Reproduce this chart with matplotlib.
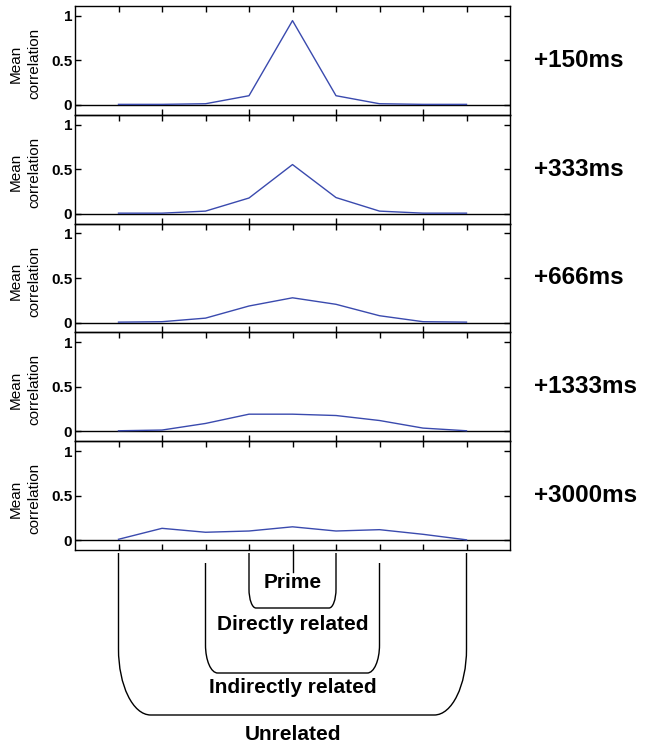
import numpy as np
import matplotlib
matplotlib.use("Agg")
import matplotlib.pyplot as plt
from matplotlib.path import Path
from matplotlib.patches import PathPatch

plt.rcParams['font.family'] = ['Liberation Sans', 'DejaVu Sans']

# ── data ─────────────────────────────────────────────────────────────────────
positions = [1, 2, 3, 4, 5, 6, 7, 8, 9]
delays = ["+150ms", "+333ms", "+666ms", "+1333ms", "+3000ms"]

corr_150 = [0.007, 0.007, 0.014, 0.104, 0.946, 0.104, 0.014, 0.007, 0.007]
corr_333 = [0.007, 0.007, 0.03, 0.177, 0.552, 0.182, 0.03, 0.007, 0.007]
corr_666 = [0.005, 0.01, 0.05, 0.186, 0.278, 0.205, 0.077, 0.01, 0.005]
corr_1333 = [0.007, 0.015, 0.089, 0.193, 0.193, 0.178, 0.122, 0.037, 0.007]
corr_3000 = [0.01, 0.133, 0.089, 0.103, 0.15, 0.103, 0.118, 0.066, 0.004]
series = [corr_150, corr_333, corr_666, corr_1333, corr_3000]

groups = ["Directly related", "Indirectly related", "Unrelated"]
group_left = [4, 3, 1]
group_right = [6, 7, 9]
prime_pos = 5

# ── layout (pixels) ──────────────────────────────────────────────────────────
W, H = 645, 745
LEFT, RIGHT = 75, 510
TOP, BOTTOM = 6, 550
PH = (BOTTOM - TOP) / len(series)


def px_axes(x0, y0, x1, y1):
    return [x0 / W, 1 - y1 / H, (x1 - x0) / W, (y1 - y0) / H]


fig = plt.figure(figsize=(W / 100, H / 100), dpi=100)

LINE_C = "#3a4aae"

for i, (vals, lab) in enumerate(zip(series, delays)):
    top = TOP + i * PH
    ax = fig.add_axes(px_axes(LEFT, top, RIGHT, top + PH))
    ax.set_facecolor("none")
    ax.axhline(0, color="k", lw=1.0, zorder=2)
    ax.plot(positions, vals, color=LINE_C, lw=1.0, zorder=3)
    ax.set_xlim(0, 10)
    ax.set_ylim(-0.11, 1.11)
    for s in ax.spines.values():
        s.set_linewidth(1.0)

    ax.set_yticks([0, 0.5, 1])
    ax.set_yticklabels(["0", "0.5", "1"], fontweight="bold", fontsize=11)
    ax.tick_params(axis="y", direction="in", left=True, right=True,
                   length=4, width=1, pad=2)

    ax.set_xticks(positions[1::2])
    ax.set_xticks(positions[0::2], minor=True)
    ax.tick_params(axis="x", which="both", direction="in", top=True,
                   bottom=True, labelbottom=False, length=4.5, width=1)
    if i < len(series) - 1:
        ax.tick_params(axis="x", which="minor", bottom=False)

    ax.text((534 - LEFT) / (RIGHT - LEFT), 0.5, lab,
            transform=ax.get_yaxis_transform(), ha="left", va="center",
            fontsize=17.5, fontweight="bold")

    fig.text(25 / W, 1 - (top + PH / 2 + 3) / H, "Mean\ncorrelation",
             rotation=90, ha="center", va="center", fontsize=11,
             multialignment="center", linespacing=1.4)

# ── brackets under the x axis ────────────────────────────────────────────────
bax = fig.add_axes(px_axes(LEFT, BOTTOM, RIGHT, H))
bax.set_xlim(0, 10)
bax.set_ylim(H, BOTTOM)
bax.axis("off")

# prime stem
bax.plot([prime_pos, prime_pos], [550, 572], color="k", lw=1.0)
bax.text(prime_pos, 588.5, "Prime", ha="center", va="baseline",
         fontsize=15, fontweight="bold")

tops = [553, 563, 553]
bottoms = [608, 673, 715]
corner_dx = [0.16, 0.28, 0.74]   # data units
corner_dy = [19, 28, 66]         # pixels
label_base = [630, 693, 740]
k = 0.5523

for g, xl, xr, yt, yb, dx, dy, lb in zip(groups, group_left, group_right,
                                         tops, bottoms, corner_dx, corner_dy,
                                         label_base):
    verts = [(xl, yt), (xl, yb - dy),
             (xl, yb - dy * (1 - k)), (xl + dx * (1 - k), yb), (xl + dx, yb),
             (xr - dx, yb),
             (xr - dx * (1 - k), yb), (xr, yb - dy * (1 - k)), (xr, yb - dy),
             (xr, yt)]
    codes = [Path.MOVETO, Path.LINETO,
             Path.CURVE4, Path.CURVE4, Path.CURVE4,
             Path.LINETO,
             Path.CURVE4, Path.CURVE4, Path.CURVE4,
             Path.LINETO]
    bax.add_patch(PathPatch(Path(verts, codes), fill=False, edgecolor="k",
                            lw=1.0, clip_on=False))
    bax.text((xl + xr) / 2, lb, g, ha="center", va="baseline",
             fontsize=15, fontweight="bold")

fig.savefig("out.png", dpi=100)
